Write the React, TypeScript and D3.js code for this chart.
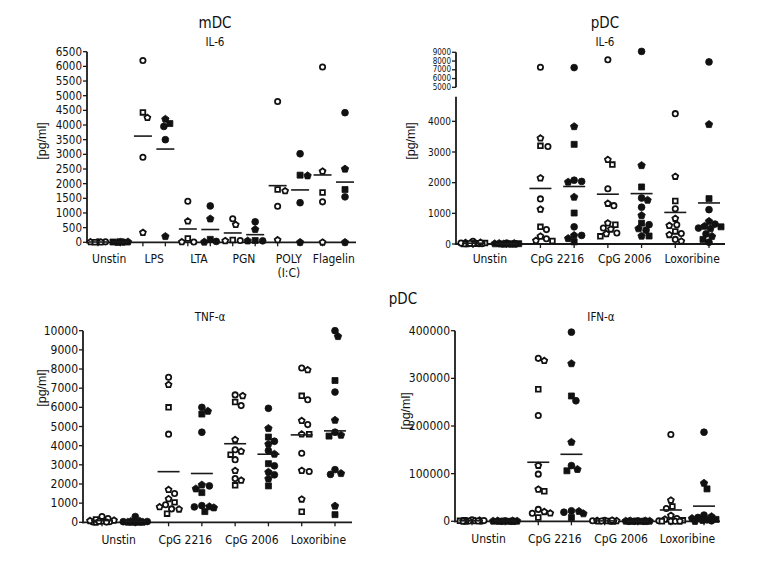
import React from "react";
import * as d3 from "d3";

// ---------- DATA ----------
const mdcGroups = ["Unstin", "LPS", "LTA", "PGN", "POLY\n(I:C)", "Flagelin"];
const mdcIl6Open = [
  [20, 10, 0, 15, 5],
  [6200, 4250, 4430, 2900, 330],
  [1400, 720, 130, 10, 10],
  [800, 600, 80, 60, 50],
  [4800, 1750, 1800, 1230, 80],
  [5980, 2420, 1700, 1380, 0],
];
const mdcIl6Filled = [
  [20, 0, 10, 5, 15],
  [3950, 4200, 4050, 3500, 200],
  [1240, 800, 100, 30, 10],
  [700, 440, 60, 50, 50],
  [3020, 2270, 2290, 1350, 0],
  [4420, 2500, 1800, 1550, 0],
];
const mdcIl6Ticks = [0, 500, 1000, 1500, 2000, 2500, 3000, 3500, 4000, 4500, 5000, 5500, 6000, 6500];

const pdcGroups = ["Unstin", "CpG 2216", "CpG 2006", "Loxoribine"];
const pdcIl6Open = [
  [90, 40, 30, 20, 10, 10, 0, 0, 10, 20, 30, 50],
  [7300, 3450, 3200, 3180, 2150, 1470, 1130, 560, 470, 250, 170, 110, 100],
  [8150, 2750, 2590, 1800, 1320, 1250, 680, 630, 520, 480, 360, 330, 250],
  [4250, 2200, 1400, 1150, 830, 630, 600, 410, 340, 300, 150, 90],
];
const pdcIl6Filled = [
  [30, 20, 10, 0, 0, 0, 10, 0, 0, 20],
  [7250, 3830, 3250, 2080, 2020, 2040, 1530, 1010, 560, 280, 280, 180, 70],
  [9100, 2560, 1860, 1500, 1430, 1200, 930, 680, 630, 500, 450, 260, 260],
  [7900, 3900, 1480, 1120, 740, 650, 580, 560, 520, 500, 330, 250, 150, 60],
];
const pdcIl6LowerTicks = [0, 1000, 2000, 3000, 4000];
const pdcIl6UpperTicks = [5000, 6000, 7000, 8000, 9000];
const pdcIl6LowerDomain = [0, 4800];
const pdcIl6UpperDomain = [5000, 9000];

const tnfOpen = [
  [300, 100, 50, 20, 0, 30, 80, 150, 200, 50, 10],
  [7570, 7180, 6000, 4600, 1700, 1500, 1220, 1040, 920, 800, 700, 680, 450],
  [6650, 6600, 6280, 6090, 4310, 3790, 3700, 3530, 3270, 2690, 2280, 2190, 1930],
  [8050, 7950, 6600, 6400, 5300, 5100, 4600, 4600, 3600, 2700, 2650, 1200, 550],
];
const tnfFilled = [
  [300, 50, 0, 20, 10, 30, 60, 0, 40, 10],
  [6000, 5800, 5650, 4700, 1950, 1900, 1750, 1550, 870, 820, 800, 760, 560],
  [5950, 4900, 4450, 4230, 4080, 3740, 3560, 3060, 2950, 2620, 2480, 2270, 1900],
  [10000, 9700, 7400, 6800, 5330, 4700, 4550, 4500, 2750, 2550, 2500, 850, 400],
];
const tnfTicks = [0, 1000, 2000, 3000, 4000, 5000, 6000, 7000, 8000, 9000, 10000];

const ifnOpen = [
  [3000, 2000, 1000, 500, 0, 0, 1000, 2000, 500, 0, 1500],
  [342000, 337000, 277000, 222000, 117000, 99000, 67000, 63000, 25000, 20000, 17000, 17000, 8000],
  [2000, 1000, 500, 0, 0, 1000, 1500, 0, 500, 2000],
  [182000, 44000, 31000, 27000, 12000, 6000, 4000, 2000, 1000, 0, 0, 0, 0],
];
const ifnFilled = [
  [1000, 500, 0, 0, 1000, 0, 500, 0, 0, 1000],
  [397000, 331000, 263000, 253000, 166000, 117000, 109000, 106000, 22000, 21000, 19000, 16000, 8000],
  [1000, 500, 0, 0, 1000, 0, 500, 0, 0, 1000, 0],
  [187000, 80000, 68000, 13000, 10000, 8000, 6000, 4000, 3000, 2000, 1000, 0],
];
const ifnTicks = [0, 100000, 200000, 300000, 400000];

// ---------- STYLE ----------
const NARROW = "'Liberation Sans Narrow', 'DejaVu Sans Condensed', sans-serif";
const SANS = "'Liberation Sans', Arial, sans-serif";
const INK = "#1a1a1a";

const symbolPentagon = {
  draw(ctx: any, size: number) {
    const r = Math.sqrt(size / 2.378);
    for (let i = 0; i < 5; i++) {
      const a = -Math.PI / 2 + (i * 2 * Math.PI) / 5;
      const x = r * Math.cos(a);
      const y = r * Math.sin(a);
      if (i === 0) ctx.moveTo(x, y);
      else ctx.lineTo(x, y);
    }
    ctx.closePath();
  },
};
const SHAPES: any[] = [d3.symbolCircle, symbolPentagon, d3.symbolSquare, d3.symbolCircle, symbolPentagon];

type Segment = {
  domain: number[];
  range: number[];
  ticks: number[];
  fontSize: number;
};

type Layout = {
  axisX: number;
  axisEndX: number;
  colStart: number;
  colEnd: number;
  labelY: number;
  labelSize: number;
  meanHalf: number;
  tickFamily: string;
  sub: string;
  subX: number;
  subY: number;
  ylabX: number;
  ylabY: number;
  ylabSize: number;
  spread: number;
  broken?: boolean;
};

function swarm(vals: number[], cx: number, yOf: (v: number) => number, minDist: number, maxSpread: number) {
  const pts = vals.map((v, i) => ({ v, i, y: yOf(v), x: cx }));
  const order = [...pts].sort((a, b) => b.v - a.v);
  const placed: { x: number; y: number }[] = [];
  const cands: number[] = [0];
  for (let s = 1.5; s <= maxSpread; s += 1.5) cands.push(s, -s);
  for (const p of order) {
    let best = 0;
    let bestD = -1;
    for (const off of cands) {
      const xx = cx + off;
      const d = placed.length ? Math.min(...placed.map((q) => Math.hypot(q.x - xx, q.y - p.y))) : Infinity;
      if (d >= minDist) {
        best = off;
        bestD = d;
        break;
      }
      if (d > bestD) {
        bestD = d;
        best = off;
      }
    }
    p.x = cx + best;
    placed.push(p);
  }
  return pts;
}

function Panel({
  groups,
  open,
  filled,
  segments,
  L,
}: {
  groups: string[];
  open: number[][];
  filled: number[][];
  segments: Segment[];
  L: Layout;
}) {
  const scales = segments.map((s) => d3.scaleLinear().domain(s.domain).range(s.range));
  const yOf = (v: number) => {
    for (let i = scales.length - 1; i >= 0; i--) {
      if (v >= segments[i].domain[0]) return scales[i](v);
    }
    return scales[0](v);
  };
  const cols = groups.flatMap((g, i) => [
    { key: `${i}o`, vals: open[i], filledKind: false },
    { key: `${i}f`, vals: filled[i], filledKind: true },
  ]);
  const x = d3
    .scalePoint<string>()
    .domain(cols.map((c) => c.key))
    .range([L.colStart, L.colEnd]);
  const y0 = scales[0](0);
  const sym = d3.symbol();

  return (
    <g>
      {segments.map((s, si) => (
        <g key={si}>
          <line x1={L.axisX} x2={L.axisX} y1={s.range[0] + (si === 0 ? 1 : 0)} y2={s.range[1]} stroke={INK} strokeWidth={1.8} />
          {s.ticks.map((t) => (
            <g key={t}>
              <line x1={L.axisX - 4} x2={L.axisX} y1={scales[si](t)} y2={scales[si](t)} stroke={INK} strokeWidth={1.3} />
              <text
                x={L.axisX - 5}
                y={scales[si](t)}
                textAnchor="end"
                dominantBaseline="central"
                fontFamily={L.tickFamily}
                fontSize={s.fontSize}
                fill="#111"
              >
                {t}
              </text>
            </g>
          ))}
        </g>
      ))}
      {L.broken && (
        <g>
          <line x1={L.axisX - 4} x2={L.axisX + 4} y1={segments[1].range[0]} y2={segments[1].range[0]} stroke={INK} strokeWidth={1.6} />
          <line x1={L.axisX - 3} x2={L.axisX + 3} y1={segments[0].range[1]} y2={segments[0].range[1]} stroke={INK} strokeWidth={1.6} />
        </g>
      )}
      <line x1={L.axisX - 1} x2={L.axisEndX} y1={y0} y2={y0} stroke={INK} strokeWidth={1.8} />
      {cols.map((c) => (
        <line key={c.key} x1={x(c.key)!} x2={x(c.key)!} y1={y0} y2={y0 + 4} stroke={INK} strokeWidth={1.3} />
      ))}
      {groups.map((g, i) => {
        const cx = ((x(`${i}o`) as number) + (x(`${i}f`) as number)) / 2;
        return (
          <text key={g} x={cx} y={L.labelY} textAnchor="middle" fontFamily={NARROW} fontSize={L.labelSize} fill="#111">
            {g.split("\n").map((line, li) => (
              <tspan key={li} x={cx} dy={li === 0 ? 0 : L.labelSize * 1.15}>
                {line}
              </tspan>
            ))}
          </text>
        );
      })}
      {cols.map((c) => {
        const cx = x(c.key) as number;
        const pts = swarm(c.vals, cx, yOf, 6.2, L.spread);
        const mean = d3.mean(c.vals) as number;
        return (
          <g key={c.key}>
            {pts.map((p) => (
              <path
                key={p.i}
                transform={`translate(${p.x},${p.y})`}
                d={sym.type(SHAPES[p.i % SHAPES.length]).size(c.filledKind ? 36 : 22)() as string}
                fill={c.filledKind ? "#111" : "#fff"}
                stroke="#111"
                strokeWidth={c.filledKind ? 0.8 : 1.8}
              />
            ))}
            <line x1={cx - L.meanHalf} x2={cx + L.meanHalf} y1={yOf(mean)} y2={yOf(mean)} stroke={INK} strokeWidth={1.6} />
          </g>
        );
      })}
      <text x={L.subX} y={L.subY} textAnchor="middle" fontFamily={NARROW} fontSize={11.5} fill="#111">
        {L.sub}
      </text>
      <text
        x={L.ylabX}
        y={L.ylabY}
        transform={`rotate(-90, ${L.ylabX}, ${L.ylabY})`}
        textAnchor="middle"
        dominantBaseline="central"
        fontFamily={SANS}
        fontSize={L.ylabSize}
        fill="#111"
      >
        [pg/ml]
      </text>
    </g>
  );
}

export default function App() {
  return (
    <svg width={780} height={564} viewBox="0 0 780 564" style={{ display: "block", background: "#fff" }}>
      <rect x={0} y={0} width={780} height={564} fill="#fff" />
      <text x={207} y={20} textAnchor="middle" fontFamily={NARROW} fontSize={15} fill="#111">
        mDC
      </text>
      <text x={597} y={20} textAnchor="middle" fontFamily={NARROW} fontSize={15} fill="#111">
        pDC
      </text>
      <text x={395} y={296} textAnchor="middle" fontFamily={NARROW} fontSize={15} fill="#111">
        pDC
      </text>

      <Panel
        groups={mdcGroups}
        open={mdcIl6Open}
        filled={mdcIl6Filled}
        segments={[{ domain: [0, 6500], range: [234.3, 43.7], ticks: mdcIl6Ticks, fontSize: 11.5 }]}
        L={{
          axisX: 79,
          axisEndX: 348,
          colStart: 90,
          colEnd: 337,
          labelY: 255,
          labelSize: 12,
          meanHalf: 9,
          tickFamily: NARROW,
          sub: "IL-6",
          subX: 207,
          subY: 37.5,
          ylabX: 34,
          ylabY: 133,
          ylabSize: 12.5,
          spread: 8,
        }}
      />
      <Panel
        groups={pdcGroups}
        open={pdcIl6Open}
        filled={pdcIl6Filled}
        segments={[
          { domain: pdcIl6LowerDomain, range: [236, 88.8], ticks: pdcIl6LowerTicks, fontSize: 10 },
          { domain: pdcIl6UpperDomain, range: [79.3, 44.3], ticks: pdcIl6UpperTicks, fontSize: 8 },
        ]}
        L={{
          axisX: 448,
          axisEndX: 717,
          colStart: 465,
          colEnd: 701,
          labelY: 255,
          labelSize: 12,
          meanHalf: 11,
          tickFamily: NARROW,
          sub: "IL-6",
          subX: 597,
          subY: 37.5,
          ylabX: 403,
          ylabY: 133,
          ylabSize: 12.5,
          spread: 12,
        }}
      />
      <Panel
        groups={pdcGroups}
        open={tnfOpen}
        filled={tnfFilled}
        segments={[{ domain: [0, 10000], range: [514.3, 322.7], ticks: tnfTicks, fontSize: 12 }]}
        L={{
          axisX: 75,
          axisEndX: 344,
          colStart: 94,
          colEnd: 327,
          labelY: 535.5,
          labelSize: 12,
          meanHalf: 11,
          tickFamily: NARROW,
          sub: "TNF-α",
          subX: 202,
          subY: 313,
          ylabX: 34,
          ylabY: 380,
          ylabSize: 12.5,
          spread: 12,
        }}
      />
      <Panel
        groups={pdcGroups}
        open={ifnOpen}
        filled={ifnFilled}
        segments={[{ domain: [0, 400000], range: [513.3, 322.7], ticks: ifnTicks, fontSize: 12 }]}
        L={{
          axisX: 447,
          axisEndX: 712,
          colStart: 464,
          colEnd: 696,
          labelY: 535,
          labelSize: 12,
          meanHalf: 11,
          tickFamily: NARROW,
          sub: "IFN-α",
          subX: 593,
          subY: 313,
          ylabX: 398,
          ylabY: 403,
          ylabSize: 12.5,
          spread: 12,
        }}
      />
    </svg>
  );
}
